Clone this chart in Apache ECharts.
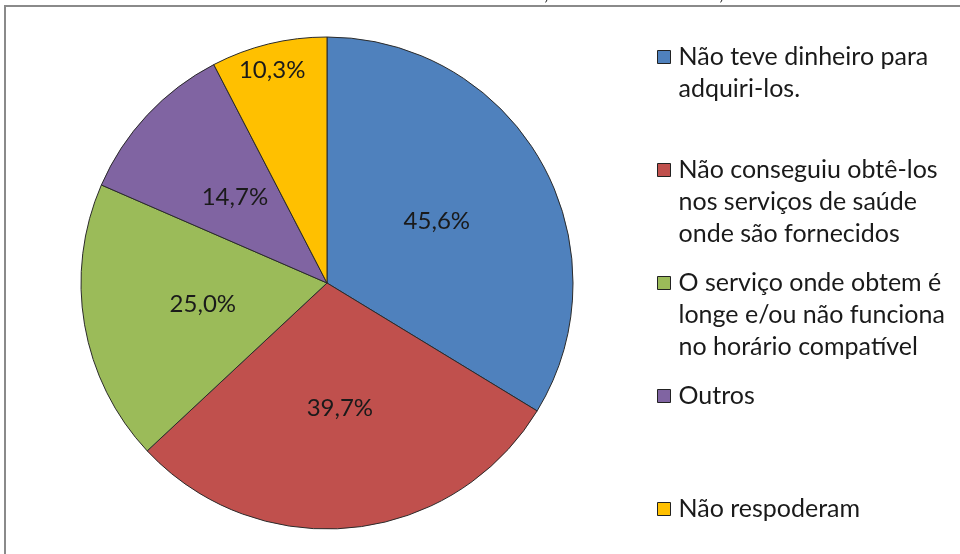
<!DOCTYPE html>
<html>
<head>
<meta charset="utf-8">
<script src="https://cdn.jsdelivr.net/npm/echarts@6/dist/echarts.min.js"></script>
<style>
  html, body { margin: 0; padding: 0; background: #fff; }
  #chart { width: 960px; height: 554px; }
</style>
</head>
<body>
<div id="chart"></div>
<script>
// categorias (legenda) e valores (%)
const categories = [
  'Não teve dinheiro para\nadquiri-los.',
  'Não conseguiu obtê-los\nnos serviços de saúde\nonde são fornecidos',
  'O serviço onde obtem é\nlonge e/ou não funciona\nno horário compatível',
  'Outros',
  'Não respoderam'
];
const values = [45.6, 39.7, 25.0, 14.7, 10.3];
const colors = ['#4F81BD', '#C0504D', '#9BBB59', '#8064A2', '#FFC000'];

const font = 'Lato, "Open Sans", sans-serif';
const lineH = 32;

const chart = echarts.init(document.getElementById('chart'));

// uma legenda por item, para reproduzir o espaçamento do Excel.
// linhas vazias antes do texto fazem o quadrado ficar na 1a linha
const legends = categories.map((name, i) => {
  const lines = name.split('\n').length;
  const firstLine = 57 + i * 113;
  return {
    data: [name],
    orient: 'vertical',
    left: 657,
    top: firstLine - (2 * lines - 1) * lineH / 2,
    padding: 0,
    itemWidth: 13,
    itemHeight: 13,
    icon: 'rect',
    selectedMode: false,
    formatter: n => '\n'.repeat(lines - 1) + n,
    itemStyle: { borderColor: '#222', borderWidth: 1 },
    textStyle: {
      fontFamily: font,
      fontSize: 25,
      color: '#1a1a1a',
      lineHeight: lineH,
      padding: [0, 0, 0, 3]
    }
  };
});

const option = {
  backgroundColor: '#fff',
  animation: false,
  color: colors,
  legend: legends,
  graphic: [
    {
      type: 'rect',
      shape: { x: 5, y: 6, width: 1000, height: 600 },
      style: { fill: 'none', stroke: '#8a8a8a', lineWidth: 2 }
    },
    // restos do título cortado, acima da moldura
    { type: 'text', left: 544, top: -16, style: { text: ',', font: '20px ' + font, fill: '#222' } },
    { type: 'text', left: 719, top: -16, style: { text: ',', font: '20px ' + font, fill: '#222' } }
  ],
  series: [
    {
      type: 'pie',
      center: [327, 283],
      radius: 246,
      startAngle: 90,
      clockwise: true,
      avoidLabelOverlap: false,
      itemStyle: { borderColor: '#2b2b2b', borderWidth: 1 },
      label: {
        show: true,
        position: 'inside',
        fontFamily: font,
        fontSize: 24,
        color: '#1a1a1a',
        formatter: p => p.value.toFixed(1).replace('.', ',') + '%'
      },
      labelLine: { show: false },
      labelLayout: p => (p.dataIndex === 4 ? { dx: -25, dy: -90 } : {}),
      emphasis: { disabled: true },
      data: categories.map((name, i) => ({ name: name, value: values[i] }))
    }
  ]
};

chart.setOption(option);
</script>
</body>
</html>
